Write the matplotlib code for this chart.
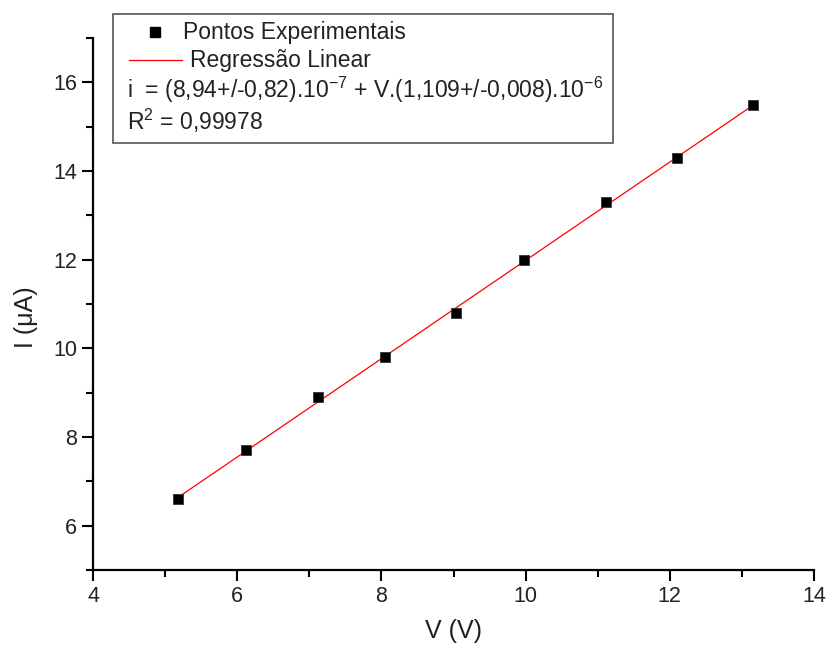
# plot.py
# current vs voltage with linear fit

import numpy as np
import matplotlib
matplotlib.use("Agg")
import matplotlib.pyplot as plt
from matplotlib.lines import Line2D
from matplotlib.patches import Rectangle

plt.rcParams['font.family'] = ['Liberation Sans', 'DejaVu Sans']
plt.rcParams['mathtext.fontset'] = 'custom'
plt.rcParams['mathtext.rm'] = 'Liberation Sans'
plt.rcParams['mathtext.it'] = 'Liberation Sans:italic'

# measured points
voltage = [5.18, 6.12, 7.12, 8.05, 9.03, 9.98, 11.12, 12.10, 13.16]
current = [6.6, 7.7, 8.9, 9.8, 10.8, 12.0, 13.3, 14.3, 15.5]

# fit coefficients (uA, uA/V)
fit_a = 0.894
fit_b = 1.109

legend_labels = ["Pontos Experimentais", "Regressão Linear"]
eq_text = "i  = (8,94+/-0,82).10$^{-7}$ + V.(1,109+/-0,008).10$^{-6}$"
r2_text = "R$^{2}$ = 0,99978"

W, H = 830, 650
fig = plt.figure(figsize=(W / 100, H / 100), dpi=100)
ax = fig.add_axes([93 / W, 1 - 570 / H, (814 - 93) / W, (570 - 38) / H])

v = np.array(voltage)
vfit = np.array([v.min(), v.max()])
ax.plot(vfit, fit_a + fit_b * vfit, color='red', lw=0.9, zorder=2)
ax.plot(voltage, current, 's', color='black', markersize=7.5,
        markeredgecolor='#333333', markeredgewidth=0.6, zorder=3)

ax.set_xlim(4, 14)
ax.set_ylim(5, 17)
ax.set_xticks(np.arange(4, 15, 2))
ax.set_xticks(np.arange(5, 14, 2), minor=True)
ax.set_yticks(np.arange(6, 17, 2))
ax.set_yticks(np.arange(5, 18, 2), minor=True)

for s in ['top', 'right']:
    ax.spines[s].set_visible(False)
for s in ['left', 'bottom']:
    ax.spines[s].set_linewidth(1.6)
ax.tick_params(which='major', direction='out', length=8, width=1.5,
               labelsize=15.5, colors='black', labelcolor='#222222')
ax.tick_params(which='minor', direction='out', length=5, width=1.5)
ax.set_xlabel("V (V)", fontsize=18, color='#222222', labelpad=9)
ax.set_ylabel("I (μA)", fontsize=18, color='#222222')
ax.yaxis.set_label_coords(-0.076, 0.475)

# legend box drawn in pixel coords (figure)
def px(x, y):
    return x / W, 1 - y / H

x0, y0 = px(113, 143)
x1, y1 = px(613, 14)
fig.add_artist(Rectangle((x0, y0), x1 - x0, y1 - y0, transform=fig.transFigure,
                         fill=False, edgecolor='#555555', lw=1.2))
mx, my = px(155, 32)
fig.add_artist(Line2D([mx], [my], marker='s', color='black', markersize=7,
                      transform=fig.transFigure))
lx0, ly = px(129, 60)
lx1, _ = px(182, 60)
fig.add_artist(Line2D([lx0, lx1], [ly, ly], color='red', lw=0.9,
                      transform=fig.transFigure))

fs = 16.5
fig.text(*px(183, 32), legend_labels[0], fontsize=fs, va='center', color='#222222')
fig.text(*px(190, 60), legend_labels[1], fontsize=fs, va='center', color='#222222')
fig.text(*px(127, 90), eq_text, fontsize=fs, va='center', color='#222222')
fig.text(*px(127, 121), r2_text, fontsize=fs, va='center', color='#222222')

fig.savefig("out.png", dpi=100)
